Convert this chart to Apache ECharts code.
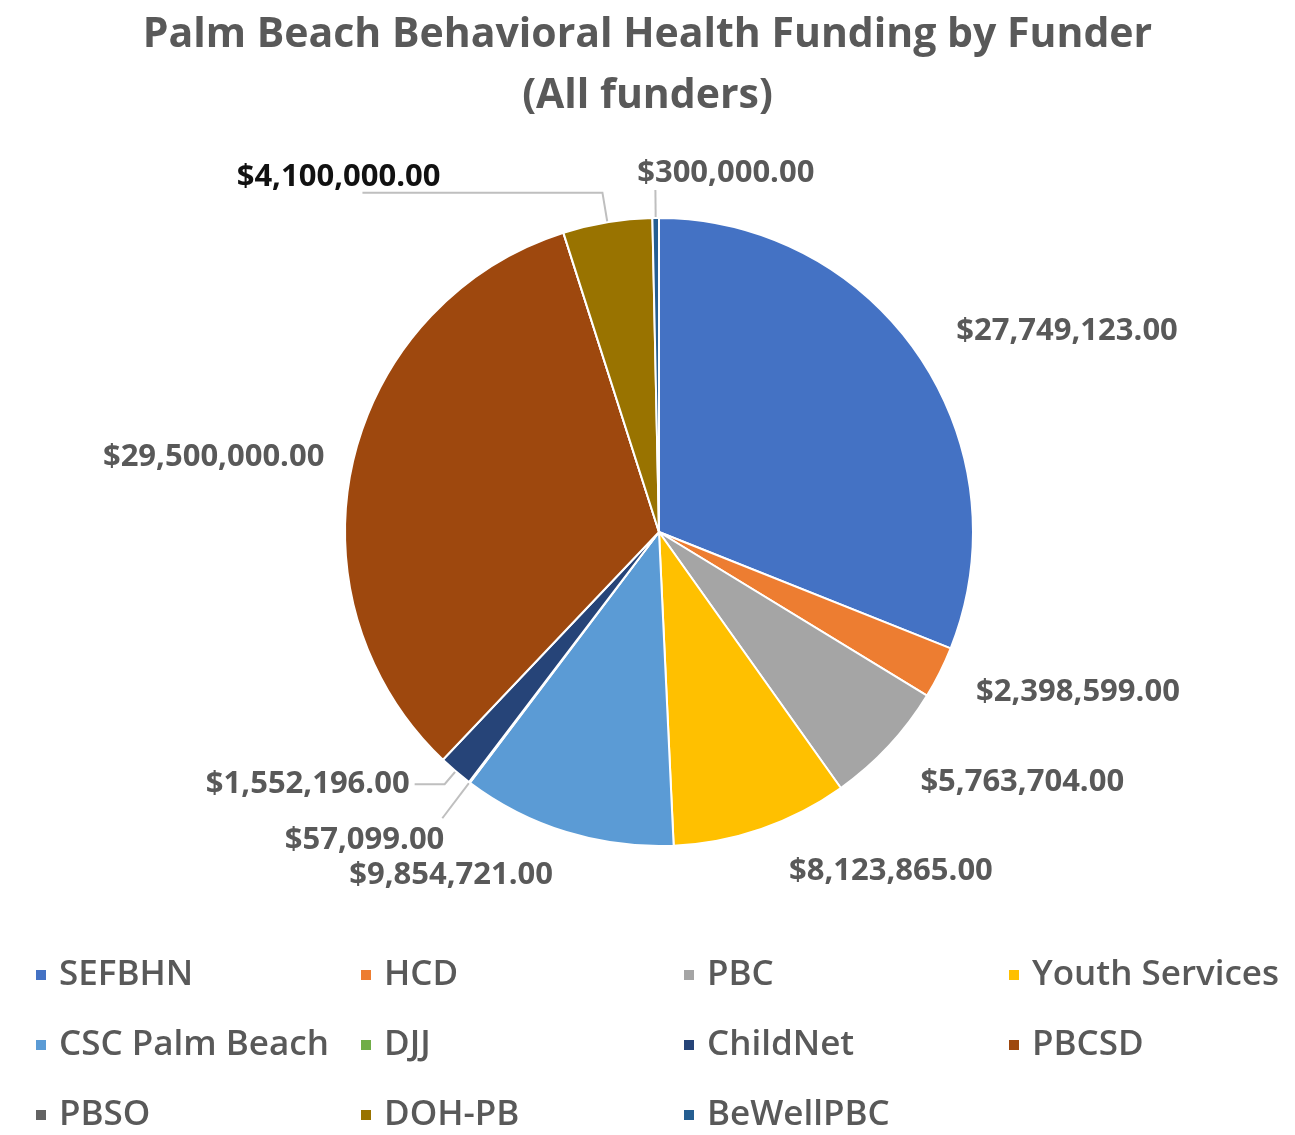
<!DOCTYPE html>
<html>
<head>
<meta charset="utf-8">
<script src="https://cdn.jsdelivr.net/npm/echarts@6/dist/echarts.min.js"></script>
<style>
  html, body { margin: 0; padding: 0; background: #fff; }
  #chart { width: 1295px; height: 1135px; }
</style>
</head>
<body>
<div id="chart"></div>
<script>
// funders, clockwise from 12 o'clock
const funders = ['SEFBHN', 'HCD', 'PBC', 'Youth Services', 'CSC Palm Beach', 'DJJ',
  'ChildNet', 'PBCSD', 'PBSO', 'DOH-PB', 'BeWellPBC']
const amounts = [27749123, 2398599, 5763704, 8123865, 9854721, 57099,
  1552196, 29500000, 0, 4100000, 300000]
const colors = ['#4472C4', '#ED7D31', '#A5A5A5', '#FFC000', '#5B9BD5', '#70AD47',
  '#264478', '#9E480E', '#636363', '#997300', '#255E91']

// legend columns (Excel lays them out in a 4 col grid)
const legendCols = [
  ['SEFBHN', 'CSC Palm Beach', 'PBSO'],
  ['HCD', 'DJJ', 'DOH-PB'],
  ['PBC', 'ChildNet', 'BeWellPBC'],
  ['Youth Services', 'PBCSD']
]
const legendLeft = [29, 354, 677, 1002]

// label placement tweaks: [line length, line length2, show line, dx, dy]
const labelTweak = {
  'SEFBHN': [44, 0, false, -4, 0],
  'HCD': [45, 0, false, -9, 0],
  'PBC': [53, 0, false, -12, 0],
  'Youth Services': [45, 0, false, 8, 0],
  'CSC Palm Beach': [45, 0, false, 5, 0],
  'DJJ': [45, 0, true, 7, 22],
  'ChildNet': [17, 30, true, 0, 0],
  'PBCSD': [20, 0, false, -4, 0],
  'PBSO': [10, 0, false, 0, 0],
  'DOH-PB': [30, 240, true, 83, -16],
  'BeWellPBC': [28, 0, true, 164, -17]
}

const fmt = v => '$' + v.toLocaleString('en-US', { minimumFractionDigits: 2, maximumFractionDigits: 2 })

const pieData = funders.map((name, i) => {
  const t = labelTweak[name]
  return {
    name: name,
    value: amounts[i],
    itemStyle: { color: colors[i] },
    label: {
      show: amounts[i] > 0,
      color: name === 'DOH-PB' ? '#111' : '#595959'
    },
    labelLine: { show: t[2], length: t[0], length2: t[1] }
  }
})

const chart = echarts.init(document.getElementById('chart'))
chart.setOption({
  animation: false,
  color: colors,
  title: {
    text: 'Palm Beach Behavioral Health Funding by Funder\n(All funders)',
    left: 'center',
    top: 0,
    textStyle: {
      fontFamily: 'Open Sans',
      fontWeight: 'bold',
      fontSize: 41,
      lineHeight: 61,
      color: '#595959'
    }
  },
  legend: legendCols.map((col, i) => ({
    data: col,
    orient: 'vertical',
    left: legendLeft[i],
    top: 950,
    height: 260,
    icon: 'rect',
    itemWidth: 12,
    itemHeight: 12,
    itemGap: 30,
    selectedMode: false,
    textStyle: {
      fontFamily: 'Open Sans',
      fontWeight: 600,
      fontSize: 35,
      lineHeight: 40,
      color: '#595959',
      padding: [0, 0, 0, 7]
    }
  })),
  series: [{
    type: 'pie',
    center: [659, 532],
    radius: 314,
    startAngle: 90,
    clockwise: true,
    avoidLabelOverlap: false,
    itemStyle: { borderColor: '#fff', borderWidth: 2 },
    label: {
      position: 'outside',
      fontFamily: 'Open Sans',
      fontWeight: 'bold',
      fontSize: 31,
      distanceToLabelLine: 5,
      formatter: p => fmt(p.value)
    },
    labelLine: {
      lineStyle: { color: '#BFBFBF', width: 2 }
    },
    labelLayout: p => {
      const t = labelTweak[funders[p.dataIndex]]
      return { dx: t[3], dy: t[4] }
    },
    emphasis: { disabled: true },
    data: pieData
  }]
})
</script>
</body>
</html>
